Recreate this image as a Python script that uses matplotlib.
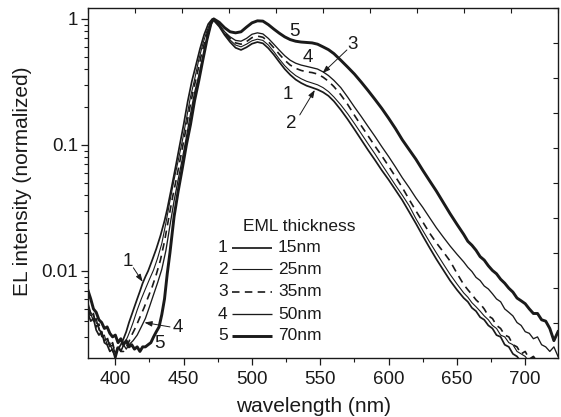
import matplotlib

matplotlib.use("Agg")

import matplotlib.pyplot as plt
import numpy as np
from matplotlib.ticker import FixedLocator, LogLocator, MultipleLocator, NullFormatter


# ============================================================
# DATA
# ============================================================

# shared wavelength grids for the red side of the spectra
WL_MID = [476, 480, 484, 488, 492, 496, 500, 504, 508, 512, 516, 520, 524, 528,
          532, 536, 540, 544, 548, 552, 556, 560,
          565, 570, 575, 580, 585, 590, 595, 600, 605, 610, 615, 620, 625, 630,
          635, 640, 645, 650]
WL_RED = [655, 658, 661, 664, 667, 670, 673, 676, 679, 682, 685, 688, 691, 694,
          697, 700, 703, 706, 709, 712, 715, 718, 721, 724]

# 1 - 15 nm
WL1_BLUE = [380, 382, 384, 386, 388, 390, 392, 394, 396, 398, 400, 402, 404, 406,
            408, 410, 412, 414, 416, 418, 420, 422, 424,
            427, 430, 433, 436, 438, 441, 444, 447, 450, 453, 456, 459, 462, 465,
            468, 471]
EL1_BLUE = [0.0046, 0.0040, 0.0042, 0.0034, 0.0031, 0.0033, 0.0027, 0.0026, 0.0023,
            0.0024, 0.0020, 0.0024, 0.0026, 0.0029, 0.0033, 0.0039, 0.0045, 0.0052,
            0.0060, 0.0069, 0.0080, 0.0090, 0.0100,
            0.0122, 0.0150, 0.019, 0.025, 0.031, 0.045, 0.066, 0.098, 0.145, 0.222,
            0.32, 0.43, 0.58, 0.75, 0.91, 1.0]
EL1_MID = [0.87, 0.745, 0.655, 0.59, 0.567, 0.595, 0.635, 0.655, 0.64, 0.585, 0.52,
           0.455, 0.40, 0.36, 0.33, 0.31, 0.295, 0.285, 0.275, 0.262, 0.245, 0.222,
           0.19, 0.16, 0.133, 0.11, 0.091, 0.076, 0.063, 0.053, 0.044, 0.0365,
           0.0295, 0.0238, 0.019, 0.0153, 0.0124, 0.0102, 0.0084, 0.0071]
EL1_RED = [0.0061, 0.0057, 0.0051, 0.0048, 0.0043, 0.0041, 0.0037, 0.0035, 0.0031,
           0.0030, 0.0026, 0.0025, 0.0022, 0.0021, 0.0019, 0.0020, 0.0017, 0.0019,
           0.0016, 0.0018, 0.0016, 0.0018, 0.0015, 0.0017]

# 2 - 25 nm
WL2_BLUE = [380, 382, 384, 386, 388, 390, 392, 394, 396, 398, 400, 402, 404,
            407, 409, 411, 413, 416, 419, 422, 425, 428, 431, 434, 437, 440, 443,
            446, 449, 452, 455, 458, 461, 464, 467, 470, 472]
EL2_BLUE = [0.0056, 0.0047, 0.0044, 0.0039, 0.0036, 0.0030, 0.0031, 0.0026, 0.0027,
            0.0023, 0.0021, 0.0025, 0.0023,
            0.0027, 0.0030, 0.0034, 0.0039, 0.0049, 0.0060, 0.0072, 0.0086, 0.0102,
            0.0127, 0.0165, 0.024, 0.036, 0.053, 0.075, 0.107, 0.16, 0.24, 0.33,
            0.47, 0.63, 0.80, 0.96, 1.0]
EL2_MID = [0.88, 0.76, 0.68, 0.62, 0.60, 0.63, 0.67, 0.69, 0.675, 0.62, 0.55, 0.48,
           0.425, 0.385, 0.355, 0.335, 0.32, 0.31, 0.30, 0.285, 0.265, 0.24,
           0.208, 0.177, 0.148, 0.123, 0.102, 0.085, 0.070, 0.058, 0.048, 0.040,
           0.033, 0.026, 0.021, 0.017, 0.0139, 0.0114, 0.0094, 0.0079]
EL2_RED = [0.0067, 0.0062, 0.0056, 0.0052, 0.0048, 0.0044, 0.0041, 0.0037, 0.0035,
           0.0031, 0.0030, 0.0027, 0.0026, 0.0023, 0.0022, 0.0021, 0.0019, 0.0021,
           0.0018, 0.0020, 0.0017, 0.0019, 0.0016, 0.0018]

# 3 - 35 nm
WL3_BLUE = [380, 382, 384, 386, 388, 390, 392, 394, 396, 398, 400, 402, 404, 406,
            409, 412, 415, 418, 421, 424, 427, 430, 433, 436, 439, 442, 445, 448,
            451, 454, 457, 460, 463, 466, 469, 472]
EL3_BLUE = [0.0050, 0.0043, 0.0046, 0.0036, 0.0038, 0.0031, 0.0029, 0.0030, 0.0025,
            0.0027, 0.0022, 0.0026, 0.0023, 0.0023,
            0.0026, 0.0031, 0.0036, 0.0043, 0.0051, 0.0062, 0.0075, 0.0094, 0.0122,
            0.0172, 0.026, 0.039, 0.056, 0.082, 0.122, 0.185, 0.27, 0.37, 0.52,
            0.69, 0.88, 1.0]
EL3_MID = [0.89, 0.77, 0.70, 0.645, 0.63, 0.66, 0.71, 0.73, 0.715, 0.66, 0.59, 0.525,
           0.47, 0.43, 0.405, 0.39, 0.38, 0.375, 0.365, 0.345, 0.32, 0.29,
           0.25, 0.21, 0.172, 0.142, 0.118, 0.098, 0.082, 0.068, 0.056, 0.046,
           0.037, 0.030, 0.0245, 0.020, 0.0167, 0.0142, 0.0120, 0.0096]
EL3_RED = [0.0078, 0.0071, 0.0065, 0.0059, 0.0055, 0.0050, 0.0044, 0.0042, 0.0037,
           0.0035, 0.0031, 0.0030, 0.0026, 0.0025, 0.0022, 0.0023, 0.0020, 0.0021,
           0.0019, 0.0020, 0.0018, 0.0020, 0.0017, 0.0019]

# 4 - 50 nm
WL4_BLUE = [380, 382, 384, 386, 388, 390, 392, 394, 396, 398, 400, 402, 404, 406,
            408, 410, 413, 416, 419, 422, 425, 428, 431, 434, 437, 440, 443, 446,
            449, 452, 455, 458, 461, 464, 467, 470, 472]
EL4_BLUE = [0.0052, 0.0046, 0.0040, 0.0042, 0.0034, 0.0033, 0.0028, 0.0029, 0.0025,
            0.0026, 0.0022, 0.0025, 0.0023, 0.0026, 0.0024, 0.0026,
            0.0028, 0.0031, 0.0036, 0.0042, 0.0052, 0.0065, 0.0081, 0.0103, 0.0145,
            0.023, 0.036, 0.053, 0.077, 0.115, 0.175, 0.26, 0.35, 0.49, 0.68, 0.90,
            1.0]
EL4_MID = [0.90, 0.79, 0.72, 0.675, 0.665, 0.70, 0.755, 0.775, 0.76, 0.70, 0.63,
           0.565, 0.51, 0.47, 0.445, 0.43, 0.42, 0.41, 0.40, 0.38, 0.355, 0.325,
           0.285, 0.24, 0.20, 0.168, 0.14, 0.117, 0.097, 0.081, 0.067, 0.055,
           0.046, 0.038, 0.032, 0.0265, 0.022, 0.0186, 0.0158, 0.0136]
EL4_RED = [0.0118, 0.0107, 0.0099, 0.0089, 0.0084, 0.0076, 0.0072, 0.0066, 0.0060,
           0.0057, 0.0050, 0.0047, 0.0044, 0.0039, 0.0037, 0.0033, 0.0032, 0.0029,
           0.0030, 0.0026, 0.0025, 0.0023, 0.0025, 0.0021]

# 5 - 70 nm
WL5_BLUE = [380, 382, 384, 386, 388, 390, 392, 394, 396, 398, 400, 402, 404, 406,
            408, 410, 412, 414, 416, 418, 420, 422, 424, 426, 428, 430, 432,
            434, 436, 438, 440, 443, 446, 449, 452, 455, 458, 461, 464, 467, 470,
            472]
EL5_BLUE = [0.0070, 0.0060, 0.0050, 0.0047, 0.0041, 0.0039, 0.0035, 0.0036, 0.0032,
            0.0030, 0.0031, 0.0027, 0.0029, 0.0026, 0.0028, 0.0025, 0.0026, 0.0024,
            0.0025, 0.0023, 0.0025, 0.0025, 0.0026, 0.0027, 0.0030, 0.0033, 0.0036,
            0.0045, 0.0060, 0.0095, 0.0140, 0.027, 0.043, 0.065, 0.10, 0.145,
            0.225, 0.32, 0.47, 0.68, 0.92, 1.0]
EL5_MID = [0.94, 0.85, 0.79, 0.775, 0.79, 0.86, 0.93, 0.965, 0.96, 0.90, 0.83,
           0.77, 0.72, 0.685, 0.665, 0.655, 0.65, 0.645, 0.63, 0.60, 0.57, 0.53,
           0.47, 0.415, 0.365, 0.315, 0.27, 0.23, 0.195, 0.163, 0.135, 0.110,
           0.092, 0.077, 0.063, 0.052, 0.043, 0.035, 0.0285, 0.0235]
EL5_RED = [0.0195, 0.0172, 0.0160, 0.0146, 0.0130, 0.0122, 0.0110, 0.0101, 0.0095,
           0.0086, 0.0080, 0.0073, 0.0068, 0.0061, 0.0058, 0.0055, 0.0050, 0.0046,
           0.0046, 0.0041, 0.0040, 0.0035, 0.0028, 0.0033]

LABELS = ["1", "2", "3", "4", "5"]
THICKNESS = ["15nm", "25nm", "35nm", "50nm", "70nm"]


# ============================================================
# STYLE
# ============================================================

plt.rcParams["font.family"] = ["Liberation Sans", "DejaVu Sans"]
INK = "#1a1a1a"

STYLES = [
    dict(lw=1.25, ls="-"),
    dict(lw=0.8, ls="-"),
    dict(lw=1.2, ls=(0, (4.5, 3.2))),
    dict(lw=0.95, ls="-"),
    dict(lw=2.1, ls="-"),
]

curves = [
    (WL1_BLUE, EL1_BLUE, EL1_MID, EL1_RED),
    (WL2_BLUE, EL2_BLUE, EL2_MID, EL2_RED),
    (WL3_BLUE, EL3_BLUE, EL3_MID, EL3_RED),
    (WL4_BLUE, EL4_BLUE, EL4_MID, EL4_RED),
    (WL5_BLUE, EL5_BLUE, EL5_MID, EL5_RED),
]


# ============================================================
# PLOT
# ============================================================

fig = plt.figure(figsize=(5.61, 4.17), dpi=100)
ax = fig.add_axes([88 / 561, 1 - 358 / 417, 470 / 561, 350 / 417])

for (wl_b, el_b, el_m, el_r), style in zip(curves, STYLES):
    wl = np.concatenate([wl_b, WL_MID, WL_RED])
    el = np.concatenate([el_b, el_m, el_r])
    ax.plot(wl, el, color=INK, solid_joinstyle="round", **style)

ax.set_yscale("log")
ax.set_xlim(380, 724)
ax.set_ylim(0.00204, 1.22)

ax.xaxis.set_major_locator(MultipleLocator(50))
ax.xaxis.set_minor_locator(MultipleLocator(25))
ax.yaxis.set_major_locator(FixedLocator([0.01, 0.1, 1]))
ax.yaxis.set_major_formatter(plt.FuncFormatter(lambda v, p: f"{v:g}"))
ax.yaxis.set_minor_locator(LogLocator(base=10, subs=np.arange(2, 10)))
ax.yaxis.set_minor_formatter(NullFormatter())

ax.tick_params(which="both", direction="out", colors=INK, top=False,
               right=False, labelsize=13.5)
ax.tick_params(which="major", length=5, width=0.9)
ax.tick_params(which="minor", length=3, width=0.8)
ax.tick_params(axis="x", which="major", pad=4)
ax.tick_params(axis="y", which="major", pad=2)

for sp in ax.spines.values():
    sp.set_linewidth(1.0)
    sp.set_color(INK)

# linear inward ticks on the right and top frame
ax_r = ax.twinx()
ax_r.set_ylim(0, 1)
ax_r.yaxis.set_major_locator(MultipleLocator(0.1))
ax_r.tick_params(direction="in", length=3.5, width=0.8, colors=INK,
                 labelright=False)
ax_t = ax.twiny()
ax_t.set_xlim(0, 1)
ax_t.xaxis.set_major_locator(MultipleLocator(0.1))
ax_t.tick_params(direction="in", length=3.5, width=0.8, colors=INK,
                 labeltop=False)
for a in (ax_r, ax_t):
    for sp in a.spines.values():
        sp.set_visible(False)

fig.text(23 / 561, 1 - 181 / 417, "EL intensity (normalized)", rotation=90,
         ha="center", va="center", fontsize=15, color=INK)
fig.text(314 / 561, 1 - 406 / 417, "wavelength (nm)", ha="center",
         va="center", fontsize=15, color=INK)


# ============================================================
# CURVE LABELS
# ============================================================

ARROW = dict(arrowstyle="-|>,head_length=0.45,head_width=0.16", lw=0.7,
             color=INK, shrinkA=0, shrinkB=0)

ax.text(531.3, 0.80, "5", fontsize=13.5, ha="center", va="center", color=INK)
ax.text(540.9, 0.49, "4", fontsize=13.5, ha="center", va="center", color=INK)
ax.text(573.6, 0.63, "3", fontsize=13.5, ha="center", va="center", color=INK)
ax.annotate("", xy=(551.6, 0.371), xytext=(569.5, 0.567), arrowprops=ARROW)
ax.text(526.2, 0.249, "1", fontsize=13.5, ha="center", va="center", color=INK)
ax.text(528.4, 0.149, "2", fontsize=13.5, ha="center", va="center", color=INK)
ax.annotate("", xy=(546.0, 0.273), xytext=(535.0, 0.173), arrowprops=ARROW)

ax.text(408.8, 0.0118, "1", fontsize=13.5, ha="center", va="center", color=INK)
ax.annotate("", xy=(420.0, 0.0082), xytext=(413.2, 0.0106), arrowprops=ARROW)
ax.text(445.5, 0.00355, "4", fontsize=13.5, ha="center", va="center", color=INK)
ax.annotate("", xy=(421.3, 0.0039), xytext=(440.0, 0.0036), arrowprops=ARROW)
ax.text(432.3, 0.00266, "5", fontsize=13.5, ha="center", va="center", color=INK)


# ============================================================
# LEGEND (drawn by hand, Origin style)
# ============================================================

ax.text(0.3298, 0.377, "EML thickness", transform=ax.transAxes, fontsize=12.5,
        ha="left", va="center", color=INK)
row_y = [0.3157, 0.254, 0.1886, 0.1257, 0.0629]
for lab, thick, style, y in zip(LABELS, THICKNESS, STYLES, row_y):
    ax.text(0.287, y, lab, transform=ax.transAxes, fontsize=12.5, ha="center",
            va="center", color=INK)
    ax.plot([0.3064, 0.3915], [y, y], transform=ax.transAxes, color=INK,
            solid_capstyle="butt", **style)
    ax.text(0.404, y, thick, transform=ax.transAxes, fontsize=12.5, ha="left",
            va="center", color=INK)

fig.savefig("out.png", dpi=100)
